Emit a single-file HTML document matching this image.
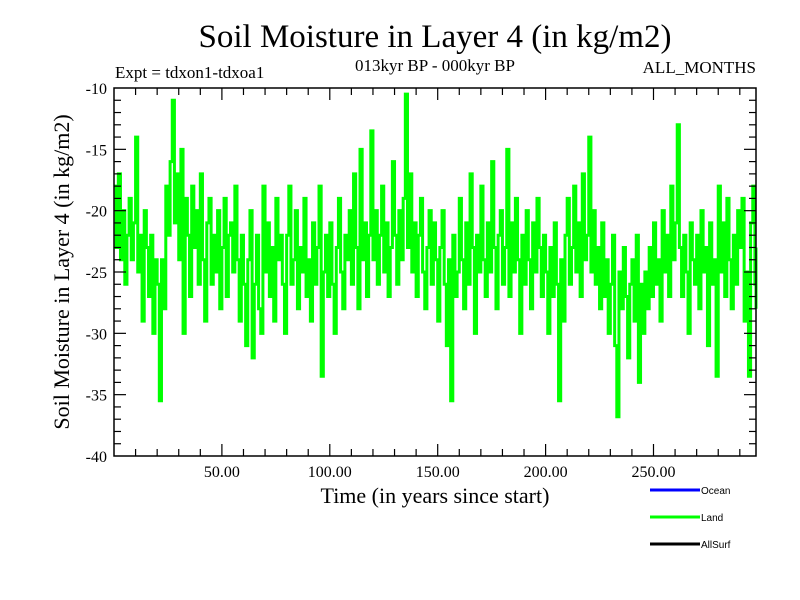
<!DOCTYPE html>
<html><head><meta charset="utf-8"><style>
body{margin:0;background:#fff}
svg{display:block}
text{font-family:"Liberation Serif",serif;fill:#000}
.lg{font-family:"Liberation Sans",sans-serif;font-size:10px}
</style></head><body>
<svg id="c" width="800" height="600">
<text x="435" y="47" font-size="33" text-anchor="middle">Soil Moisture in Layer 4 (in kg/m2)</text>
<text x="435" y="71" font-size="17" text-anchor="middle">013kyr BP - 000kyr BP</text>
<text x="115" y="78" font-size="17">Expt = tdxon1-tdxoa1</text>
<text x="756" y="73" font-size="17" text-anchor="end">ALL_MONTHS</text>
<text transform="translate(69,272) rotate(-90)" font-size="22" text-anchor="middle">Soil Moisture in Layer 4 (in kg/m2)</text>
<text x="435" y="503" font-size="22" text-anchor="middle">Time (in years since start)</text>
<g id="plot"></g>
<g>
<line x1="650" y1="490" x2="700" y2="490" stroke="#0000ff" stroke-width="3"/>
<text class="lg" x="701" y="494">Ocean</text>
<line x1="650" y1="517" x2="700" y2="517" stroke="#00ff00" stroke-width="3"/>
<text class="lg" x="701" y="521">Land</text>
<line x1="650" y1="544" x2="700" y2="544" stroke="#000" stroke-width="3"/>
<text class="lg" x="701" y="548">AllSurf</text>
</g>
</svg>
<script>
const landValues=[
-18,-23,-17,-24,-20,-26,-22,-19,-24,-21,
-14,-25,-22,-29,-20,-23,-27,-22,-30,-24,
-26,-35.5,-24,-28,-18,-22,-16,-11,-21,-17,
-24,-15,-30,-19,-22,-27,-18,-23,-20,-26,
-17,-24,-29,-21,-19,-26,-22,-25,-20,-28,
-23,-19,-27,-22,-21,-25,-18,-24,-29,-22,
-26,-31,-24,-20,-32,-26,-22,-28,-30,-18,
-25,-21,-27,-23,-29,-19,-24,-22,-26,-30,
-22,-18,-26,-24,-20,-28,-23,-25,-19,-27,
-24,-29,-21,-26,-23,-18,-33.5,-25,-22,-27,
-21,-26,-30,-23,-19,-25,-28,-22,-24,-20,
-26,-17,-23,-28,-15,-24,-21,-27,-22,-13.5,
-24,-20,-26,-22,-18,-25,-21,-27,-23,-16,
-22,-26,-20,-24,-19,-10.5,-23,-17,-25,-21,
-27,-22,-19,-25,-28,-23,-20,-26,-21,-24,
-29,-23,-20,-26,-31,-24,-35.5,-22,-27,-25,
-19,-24,-28,-21,-26,-17,-23,-30,-22,-25,
-18,-24,-27,-21,-25,-16,-23,-28,-22,-20,
-26,-23,-15,-27,-21,-25,-19,-24,-30,-22,
-26,-20,-24,-28,-21,-25,-19,-23,-27,-22,
-25,-30,-23,-27,-21,-26,-35.5,-24,-29,-22,
-19,-26,-23,-18,-25,-21,-27,-17,-24,-22,
-14,-25,-20,-26,-23,-28,-21,-27,-24,-30,
-26,-22,-31,-36.8,-25,-28,-23,-27,-32,-26,
-24,-29,-22,-34,-26,-30,-25,-28,-23,-27,
-21,-26,-24,-29,-20,-25,-22,-27,-18,-24,
-21,-13,-23,-27,-22,-25,-30,-21,-24,-26,
-22,-28,-20,-25,-23,-31,-21,-26,-24,-33.5,
-18,-25,-21,-27,-19,-24,-28,-22,-26,-20,
-23,-19,-29,-25,-33.5,-21,-18,-26,-28,-23];
const yTicks=[-10,-15,-20,-25,-30,-35,-40];
const xTicks=[50,100,150,200,250];
const xTickLabels=["50.00","100.00","150.00","200.00","250.00"];
const L=114,R=756,T=88,B=456,X0=0,X1=297.5,Y0=-40,Y1=-10;
const xs=v=>L+(v-X0)/(X1-X0)*(R-L);
const ys=v=>B-(v-Y0)/(Y1-Y0)*(B-T);
const NS="http://www.w3.org/2000/svg";
const g=document.getElementById('plot');
function mk(t,a){const e=document.createElementNS(NS,t);for(const k in a)e.setAttribute(k,a[k]);g.appendChild(e);return e;}
let d="";
landValues.forEach((v,i)=>{const x=xs(Math.min(i,X1)),y=ys(v);d+=(i?"L"+x+","+ys(landValues[i-1])+"L":"M")+x+","+y;});
d+="L"+R+","+ys(landValues[landValues.length-1]);
const line=mk('path',{d:d,fill:"none",stroke:"#00ff00","stroke-width":3});


const frame=mk('rect',{x:L,y:T,width:R-L,height:B-T,fill:"none",stroke:"#000","stroke-width":1.5});


for(let v=10;v<X1;v+=10){const x=xs(v),len=v%50===0?12:7;
 mk('line',{x1:x,y1:B,x2:x,y2:B-len,stroke:"#000","stroke-width":1.2});
 mk('line',{x1:x,y1:T,x2:x,y2:T+len,stroke:"#000","stroke-width":1.2});}
for(let v=-39;v<-10;v++){const y=ys(v),len=v%5===0?12:7;
 mk('line',{x1:L,y1:y,x2:L+len,y2:y,stroke:"#000","stroke-width":1.2});
 mk('line',{x1:R,y1:y,x2:R-len,y2:y,stroke:"#000","stroke-width":1.2});}
yTicks.forEach(v=>{const t=mk('text',{x:107,y:ys(v)+6,"font-size":16,"text-anchor":"end"});t.textContent=v;
 
 });
xTicks.forEach((v,i)=>{const t=mk('text',{x:xs(v),y:477,"font-size":16,"text-anchor":"middle"});t.textContent=xTickLabels[i];
 
 });
</script>
</body></html>
